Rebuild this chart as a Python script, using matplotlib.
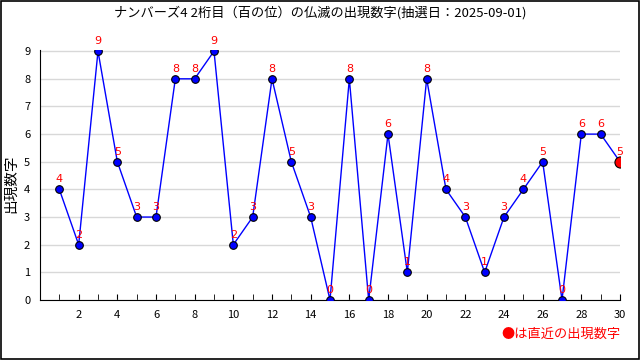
import matplotlib
matplotlib.use("Agg")
import matplotlib.pyplot as plt
from matplotlib.patches import Rectangle
from matplotlib.ticker import MultipleLocator

plt.rcParams['font.family'] = ['Noto Sans CJK JP', 'DejaVu Sans']

draws = list(range(1, 31))
digits = [4, 2, 9, 5, 3, 3, 8, 8, 9, 2, 3, 8, 5, 3, 0, 8, 0, 6, 1, 8,
          4, 3, 1, 3, 4, 5, 0, 6, 6, 5]
title = "ナンバーズ4 2桁目（百の位）の仏滅の出現数字(抽選日：2025-09-01)"
ylabel = "出現数字"
note = "●は直近の出現数字"

fig = plt.figure(figsize=(6.4, 3.6), dpi=100)
ax = fig.add_axes([0.0625, 0.1667, 0.90625, 0.695])

ax.plot(draws, digits, '-', color='blue', lw=1, zorder=3)
ax.plot(draws[:-1], digits[:-1], 'o', ms=5.5, mfc='blue', mec='black', mew=0.8, zorder=4)
ax.plot(draws[-1:], digits[-1:], 'o', ms=8, mfc='red', mec='black', mew=0.8, zorder=5)
for x, y in zip(draws, digits):
    ax.text(x, y + 0.18, str(y), color='red', ha='center', va='bottom', fontsize=8,
            family='DejaVu Sans', zorder=6)

ax.set_xlim(0, 30)
ax.set_ylim(0, 9.05)
ax.xaxis.set_minor_locator(MultipleLocator(1))
ax.set_xticks(range(2, 31, 2))
ax.yaxis.set_major_locator(MultipleLocator(1))
ax.tick_params(axis='x', which='both', direction='in', length=4, labelsize=8, pad=7)
ax.tick_params(axis='y', length=0, labelsize=8, pad=7)
ax.grid(axis='y', color='#d8d8d8', lw=1)
ax.set_axisbelow(True)
for s in ['top', 'right']:
    ax.spines[s].set_visible(False)

fig.text(0.018, 0.49, ylabel, rotation=90, ha='center', va='center', fontsize=10.5)
fig.text(0.5, 0.965, title, ha='center', va='center', fontsize=9.5)
fig.text(0.97, 0.07, note, ha='right', va='center', fontsize=9.5, color='red')

fig.patches.append(Rectangle((0.001, 0.002), 0.997, 0.995, transform=fig.transFigure,
                             fill=False, edgecolor='black', lw=1.2))

fig.savefig("out.png", dpi=100)
